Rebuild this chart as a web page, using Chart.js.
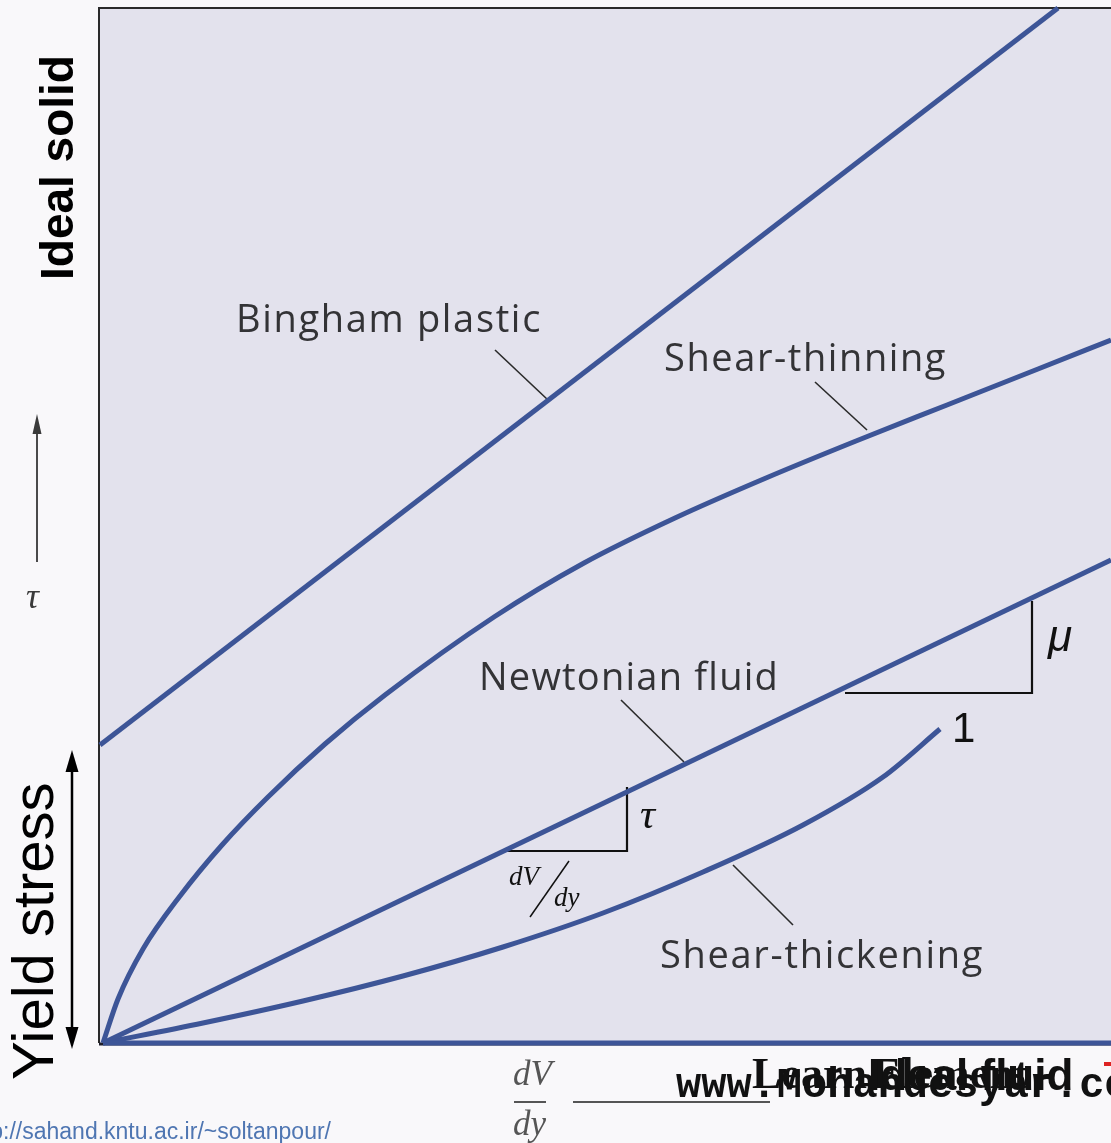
<!DOCTYPE html>
<html>
<head>
<meta charset="utf-8">
<script src="https://cdn.jsdelivr.net/npm/chart.js@4.4.0/dist/chart.umd.min.js"></script>
<style>
  html, body { margin: 0; padding: 0; background: #f9f8fa; overflow: hidden; }
  #chart1 { display: block; }
</style>
</head>
<body>
<canvas id="chart1" width="1111" height="1143"></canvas>
<script>
// shear rate (dV/dy) and shear stress (tau), arbitrary units
const binghamX = [0, 958];
const binghamY = [298, 1035];

const thinningX = [3, 18, 43, 80, 122, 168, 225, 285, 394, 484, 575, 666, 756, 847, 938, 1011];
const thinningY = [0, 44, 94, 147, 198, 246, 299, 348, 426, 480, 525, 565, 602, 638, 674, 703];

const newtonianX = [3, 1011];
const newtonianY = [0, 483];

const thickeningX = [3, 103, 203, 303, 403, 503, 603, 703, 783, 840];
const thickeningY = [0, 20, 42, 67, 96, 130, 171, 218, 266, 314];

const idealFluidX = [3, 1011];
const idealFluidY = [0, 0];

// leader lines from labels to curves
const leaderBingham = [[395, 693], [448, 643]];
const leaderThinning = [[715, 661], [767, 613]];
const leaderNewtonian = [[521, 343], [584, 281]];
const leaderThickening = [[633, 178], [693, 118]];

// slope triangles on the newtonian line
const triangleMu = [[745, 350], [932, 350], [932, 442]];
const triangleTau = [[407, 192], [527, 192], [527, 256]];

const curveColor = "#3d5597";

function toPoints(xs, ys) {
  return xs.map((x, i) => ({ x: x, y: ys[i] }));
}
function pairs(list) {
  return list.map(p => ({ x: p[0], y: p[1] }));
}

function curve(label, xs, ys) {
  return {
    label: label,
    data: toPoints(xs, ys),
    showLine: true,
    borderColor: curveColor,
    backgroundColor: curveColor,
    borderWidth: 5,
    pointRadius: 0,
    cubicInterpolationMode: "monotone",
    clip: false,
  };
}
function thinLine(label, pts, width, color) {
  return {
    label: label,
    data: pairs(pts),
    showLine: true,
    borderColor: color,
    borderWidth: width,
    pointRadius: 0,
    tension: 0,
    clip: false,
  };
}

// fit text into a given width using letter spacing
function spacedText(ctx, text, x, y, width) {
  ctx.letterSpacing = "0px";
  const w0 = ctx.measureText(text).width;
  if ("letterSpacing" in ctx) {
    const s = (width - w0) / text.length;
    ctx.letterSpacing = s.toFixed(2) + "px";
    ctx.fillText(text, x, y);
    ctx.letterSpacing = "0px";
  } else {
    ctx.save();
    ctx.translate(x, y);
    ctx.scale(width / w0, 1);
    ctx.fillText(text, 0, 0);
    ctx.restore();
  }
}

function arrowHead(ctx, x, y, dir, w, len) {
  ctx.beginPath();
  ctx.moveTo(x, y);
  ctx.lineTo(x - w / 2, y - dir * len);
  ctx.lineTo(x + w / 2, y - dir * len);
  ctx.closePath();
  ctx.fill();
}

const backgroundPlugin = {
  id: "plotBackground",
  beforeDraw(chart) {
    const { ctx, chartArea } = chart;
    ctx.save();
    ctx.fillStyle = "#f9f8fa";
    ctx.fillRect(0, 0, chart.width, chart.height);
    ctx.fillStyle = "#e3e2ed";
    ctx.fillRect(chartArea.left, chartArea.top, chartArea.right - chartArea.left, chartArea.bottom - chartArea.top);
    ctx.strokeStyle = "#2a2a2a";
    ctx.lineWidth = 2;
    ctx.beginPath();
    ctx.moveTo(chartArea.right + 2, chartArea.top);
    ctx.lineTo(chartArea.left, chartArea.top);
    ctx.lineTo(chartArea.left, chartArea.bottom);
    ctx.stroke();
    ctx.lineWidth = 3;
    ctx.strokeStyle = "#1e1e2a";
    ctx.beginPath();
    ctx.moveTo(chartArea.left, chartArea.bottom + 1);
    ctx.lineTo(chartArea.right + 2, chartArea.bottom + 1);
    ctx.stroke();
    ctx.restore();
  },
};

const textPlugin = {
  id: "labels",
  afterDraw(chart) {
    const ctx = chart.ctx;
    ctx.save();
    ctx.textBaseline = "alphabetic";
    ctx.textAlign = "left";

    // curve labels
    ctx.fillStyle = "#333336";
    ctx.font = "38px 'Open Sans', 'DejaVu Sans', sans-serif";
    spacedText(ctx, "Bingham plastic", 236, 332, 306);
    spacedText(ctx, "Shear-thinning", 664, 371, 283);
    spacedText(ctx, "Newtonian fluid", 479, 690, 300);
    spacedText(ctx, "Shear-thickening", 660, 968, 324);

    // slope triangle texts
    ctx.fillStyle = "#111";
    ctx.font = "italic 44px 'Liberation Sans', Arial, sans-serif";
    ctx.fillText("\u03bc", 1048, 651);
    ctx.font = "42px 'Liberation Sans', Arial, sans-serif";
    ctx.fillText("1", 952, 742);
    ctx.font = "italic 42px 'Liberation Serif', 'Times New Roman', serif";
    ctx.fillText("\u03c4", 640, 828);
    ctx.font = "italic 27px 'Liberation Serif', 'Times New Roman', serif";
    ctx.fillText("dV", 509, 885);
    ctx.fillText("dy", 554, 906);
    ctx.strokeStyle = "#111";
    ctx.lineWidth = 1.5;
    ctx.beginPath();
    ctx.moveTo(530, 917);
    ctx.lineTo(569, 861);
    ctx.stroke();

    // left side labels
    ctx.fillStyle = "#000";
    ctx.save();
    ctx.translate(73, 280);
    ctx.rotate(-Math.PI / 2);
    ctx.font = "bold 46px 'Liberation Sans', Arial, sans-serif";
    ctx.fillText("Ideal solid", 0, 0, 232);
    ctx.restore();

    ctx.save();
    ctx.translate(53, 1080);
    ctx.rotate(-Math.PI / 2);
    ctx.font = "58px 'Liberation Sans', Arial, sans-serif";
    ctx.fillText("Yield stress", 0, 0, 318);
    ctx.restore();

    // yield stress double arrow
    ctx.strokeStyle = "#000";
    ctx.lineWidth = 2.5;
    ctx.beginPath();
    ctx.moveTo(72, 768);
    ctx.lineTo(72, 1030);
    ctx.stroke();
    arrowHead(ctx, 72, 750, -1, 13, 22);
    arrowHead(ctx, 72, 1049, 1, 13, 22);

    // tau axis arrow
    ctx.fillStyle = "#3a3a3a";
    ctx.strokeStyle = "#4a4a4a";
    ctx.lineWidth = 2;
    ctx.beginPath();
    ctx.moveTo(37, 562);
    ctx.lineTo(37, 430);
    ctx.stroke();
    arrowHead(ctx, 37, 414, -1, 9, 20);
    ctx.font = "italic 36px 'Liberation Serif', 'Times New Roman', serif";
    ctx.fillText("\u03c4", 26, 608);

    // dV/dy at bottom
    ctx.fillStyle = "#555";
    ctx.font = "italic 35px 'Liberation Serif', 'Times New Roman', serif";
    ctx.fillText("dV", 513, 1085);
    ctx.fillText("dy", 513, 1135);
    ctx.strokeStyle = "#555";
    ctx.lineWidth = 2;
    ctx.beginPath();
    ctx.moveTo(514, 1102);
    ctx.lineTo(546, 1102);
    ctx.moveTo(573, 1102);
    ctx.lineTo(770, 1102);
    ctx.stroke();

    // watermark texts and ideal fluid
    ctx.fillStyle = "#111";
    ctx.font = "bold 42px 'Liberation Mono', 'Courier New', monospace";
    ctx.fillText("www.Mohandesyar.com", 676, 1097);
    ctx.font = "bold 44px 'Liberation Serif', 'Times New Roman', serif";
    ctx.fillText("Learn", 752, 1088);
    ctx.fillText("Element", 872, 1088, 200);
    ctx.font = "bold 44px 'Liberation Sans', Arial, sans-serif";
    ctx.fillText("Ideal fluid", 868, 1090, 218);
    ctx.fillStyle = "#d22";
    ctx.fillRect(1104, 1062, 7, 4);

    // source url
    ctx.fillStyle = "#4f76b2";
    ctx.font = "23px 'Liberation Sans', Arial, sans-serif";
    ctx.textAlign = "right";
    ctx.fillText("http://sahand.kntu.ac.ir/~soltanpour/", 331, 1139);

    ctx.restore();
  },
};

const dataChart1 = {
  datasets: [
    curve("Ideal fluid", idealFluidX, idealFluidY),
    curve("Bingham plastic", binghamX, binghamY),
    curve("Shear-thinning", thinningX, thinningY),
    curve("Newtonian fluid", newtonianX, newtonianY),
    curve("Shear-thickening", thickeningX, thickeningY),
    thinLine("leader Bingham", leaderBingham, 1.6, "#2a2a2a"),
    thinLine("leader thinning", leaderThinning, 1.6, "#2a2a2a"),
    thinLine("leader Newtonian", leaderNewtonian, 1.6, "#2a2a2a"),
    thinLine("leader thickening", leaderThickening, 1.6, "#2a2a2a"),
    thinLine("mu triangle", triangleMu, 2.2, "#111"),
    thinLine("tau triangle", triangleTau, 2.2, "#111"),
  ],
};

const configChart1 = {
  type: "scatter",
  data: dataChart1,
  options: {
    responsive: false,
    animation: false,
    devicePixelRatio: 1,
    layout: { padding: { left: 99, top: 8, right: 0, bottom: 100 } },
    plugins: {
      legend: { display: false },
      tooltip: { enabled: false },
    },
    scales: {
      x: { type: "linear", min: -1, max: 1011, display: false },
      y: { type: "linear", min: 0, max: 1035, display: false },
    },
  },
  plugins: [backgroundPlugin, textPlugin],
};

const myChart1 = new Chart(document.getElementById("chart1"), configChart1);
</script>
</body>
</html>
